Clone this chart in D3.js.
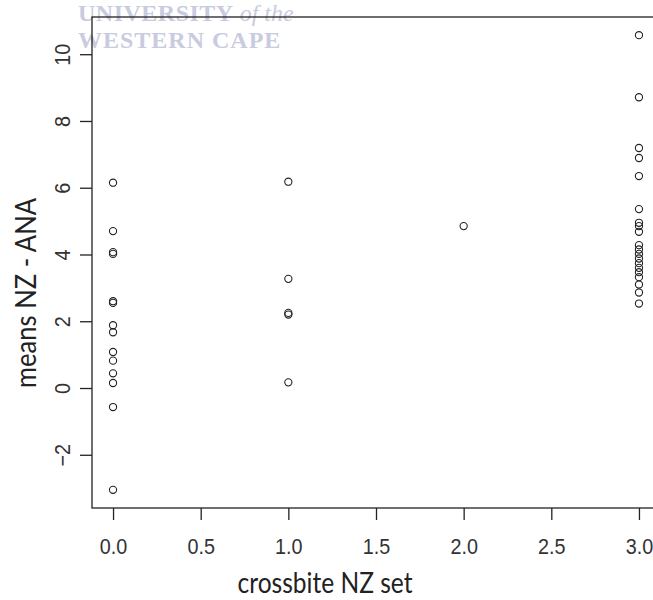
<!DOCTYPE html>
<html>
<head>
<meta charset="utf-8">
<script src="https://cdn.jsdelivr.net/npm/d3@7"></script>
<style>
body { margin: 0; background: #fff; }
</style>
</head>
<body>
<script>
// crossbite NZ set groups and the means NZ - ANA
var crossbite = [0, 1, 2, 3];
var means0 = [6.15, 4.70, 4.07, 4.02, 2.60, 2.55, 1.88, 1.67, 1.08, 0.82, 0.44, 0.15, -0.57, -3.05];
var means1 = [6.18, 3.27, 2.25, 2.20, 0.17];
var means2 = [4.85];
var means3 = [10.57, 8.71, 7.19, 6.89, 6.35, 5.36, 4.95, 4.85, 4.68, 4.28, 4.15, 4.02, 3.88, 3.74, 3.60, 3.47, 3.32, 3.10, 2.86, 2.53];
var xTicks = [0, 0.5, 1, 1.5, 2, 2.5, 3];
var yTicks = [-2, 0, 2, 4, 6, 8, 10];
var xTitle = "crossbite NZ set";
var yTitle = "means NZ - ANA";

var groups = [means0, means1, means2, means3];
var data = [];
for (var g = 0; g < groups.length; g++) {
	for (var i = 0; i < groups[g].length; i++) {
		data.push([crossbite[g], groups[g][i]]);
	}
}

var w = 653, h = 600;
var mLeft = 92, mRight = 660, mTop = 17, mBottom = 508;

// R style 4% padding on both axes
function pad(ext) {
	var d = (ext[1] - ext[0]) * 0.04;
	return [ext[0] - d, ext[1] + d];
}
var x = d3.scaleLinear().domain(pad(d3.extent(data, function(d) { return d[0]; }))).range([mLeft, mRight]);
var y = d3.scaleLinear().domain(pad(d3.extent(data, function(d) { return d[1]; }))).range([mBottom, mTop]);

var svg = d3.select("body").append("svg").attr("width", w).attr("height", h);

// faded watermark behind the plot
var wm = svg.append("g").attr("fill", "#c9cbe0").attr("font-family", "Liberation Serif");
var t1 = wm.append("text").attr("x", 78).attr("y", 21).attr("font-size", "24px");
t1.append("tspan").attr("font-weight", "bold").attr("letter-spacing", "0.5px").text("UNIVERSITY");
t1.append("tspan").attr("font-style", "italic").text(" of the");
wm.append("text").attr("x", 78).attr("y", 48).attr("font-size", "24px").attr("font-weight", "bold")
	.attr("letter-spacing", "1px").text("WESTERN CAPE");

svg.append("rect")
	.attr("x", mLeft).attr("y", mTop)
	.attr("width", mRight - mLeft).attr("height", mBottom - mTop)
	.attr("fill", "none").attr("stroke", "#222").attr("stroke-width", 1.3);

var xAxis = svg.append("g").attr("transform", "translate(0," + mBottom + ")")
	.call(d3.axisBottom(x).tickValues(xTicks).tickSize(12).tickSizeOuter(0).tickFormat(d3.format(".1f")));
var yAxis = svg.append("g").attr("transform", "translate(" + mLeft + ",0)")
	.call(d3.axisLeft(y).tickValues(yTicks).tickSize(12).tickSizeOuter(0).tickFormat(d3.format("d")));

[xAxis, yAxis].forEach(function(a) {
	a.select(".domain").remove();
	a.selectAll("line").attr("stroke", "#222").attr("stroke-width", 1.3);
	a.selectAll("text").attr("font-family", "Liberation Sans").attr("font-size", "22px").attr("fill", "#333");
});
xAxis.selectAll("text").attr("y", 46).attr("dy", 0).attr("transform", "scale(0.9,1)");
yAxis.selectAll("text").attr("x", 0).attr("y", -22).attr("dy", 0)
	.attr("text-anchor", "middle").attr("transform", "rotate(-90) scale(0.9,1)");

svg.selectAll("circle").data(data).enter().append("circle")
	.attr("cx", function(d) { return x(d[0]); })
	.attr("cy", function(d) { return y(d[1]); })
	.attr("r", 3.6)
	.attr("fill", "none")
	.attr("stroke", "#222")
	.attr("stroke-width", 1.1);

svg.append("text")
	.attr("transform", "translate(325,593) scale(1,1.2)")
	.attr("text-anchor", "middle")
	.attr("font-family", "Lato").attr("font-size", "24px").attr("fill", "#222")
	.attr("textLength", 175).attr("lengthAdjust", "spacingAndGlyphs")
	.text(xTitle);

svg.append("text")
	.attr("transform", "translate(36,293) rotate(-90) scale(1,1.2)")
	.attr("text-anchor", "middle")
	.attr("font-family", "Lato").attr("font-size", "24px").attr("fill", "#222")
	.attr("textLength", 190).attr("lengthAdjust", "spacingAndGlyphs")
	.text(yTitle);
</script>
</body>
</html>
